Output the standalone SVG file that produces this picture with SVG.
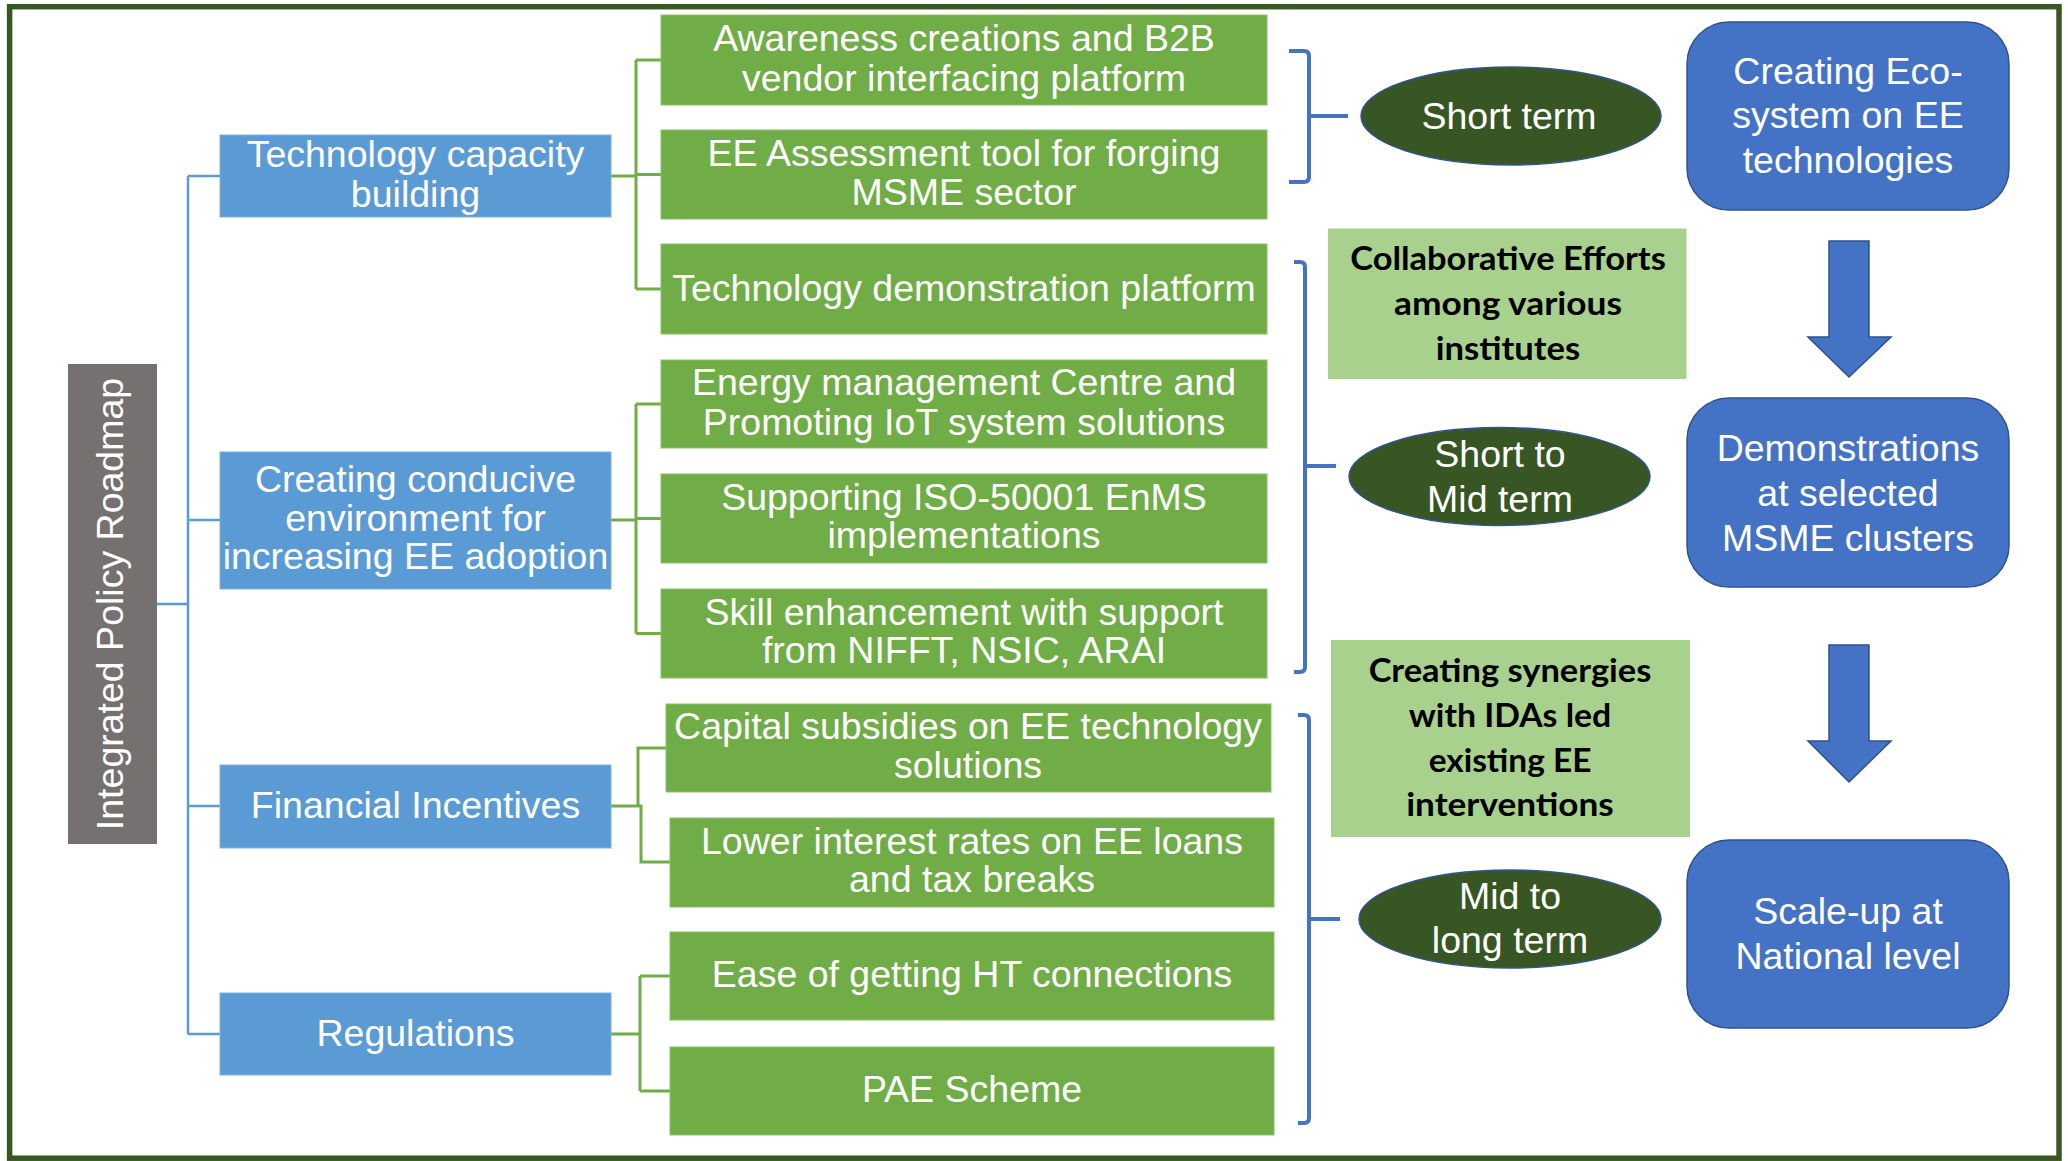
<svg xmlns="http://www.w3.org/2000/svg" width="2068" height="1161" viewBox="0 0 2068 1161">
<style>
.t{font-family:"Liberation Sans",Arial,sans-serif;font-size:37.5px;fill:#fff;text-anchor:middle}
.b{font-family:Lato,"Liberation Sans",sans-serif;font-weight:bold;font-size:33px;fill:#000;text-anchor:middle}
.blue{fill:#5b9bd5;stroke:#7fb2e0;stroke-width:1}
.green{fill:#70ad47;stroke:#8cc168;stroke-width:1}
.lg{fill:#a9d18e}
.ell{fill:#375623;stroke:#2f5597;stroke-width:1.5}
.rr{fill:#4472c4;stroke:#2f528f;stroke-width:1.5}
.arr{fill:#4472c4;stroke:#2f528f;stroke-width:1.5}
.bl{fill:none;stroke:#5b9bd5;stroke-width:2.5}
.gl{fill:none;stroke:#70ad47;stroke-width:3}
.br{fill:none;stroke:#4472c4;stroke-width:4;stroke-linejoin:round}
</style>
<rect x="0" y="0" width="2068" height="1161" fill="#fff"/>
<rect x="9.6" y="6.7" width="2049.4" height="1151.5" fill="none" stroke="#385723" stroke-width="5.5"/>

<g id="connectors">
  <path class="bl" d="M157,604 H188 M188,176 V1034 M188,176 H220 M188,520 H220 M188,806 H220 M188,1034 H220"/>
  <path class="gl" d="M611,176 H636 M636,60 V289 M636,60 H661 M636,174.5 H661 M636,289 H661"/>
  <path class="gl" d="M611,520 H636 M636,404 V633.5 M636,404 H661 M636,518.5 H661 M636,633.5 H661"/>
  <path class="gl" d="M611,806 H638 V748 H666 M638,806 H641 V862 H670"/>
  <path class="gl" d="M611,1034 H640 M640,976 V1091 M640,976 H670 M640,1091 H670"/>
  <path class="br" d="M1289,51 H1304 Q1309,51 1309,56 V177 Q1309,182 1304,182 H1289 M1309,116 H1348"/>
  <path class="br" d="M1294,262 H1300 Q1305,262 1305,267 V667 Q1305,672 1300,672 H1294 M1305,466 H1336"/>
  <path class="br" d="M1298,715 H1304 Q1309,715 1309,720 V1118 Q1309,1123 1304,1123 H1298 M1309,919 H1340"/>
  <polygon class="arr" points="1829,241 1869,241 1869,337 1891,337 1849,377 1808,337 1829,337"/>
  <polygon class="arr" points="1829,645 1869,645 1869,741 1891,741 1849,782 1808,741 1829,741"/>
</g>

<g id="root">
  <rect x="68" y="364" width="89" height="480" fill="#767171"/>
  <text class="t" transform="translate(123,604) rotate(-90)" x="0" y="0">Integrated Policy Roadmap</text>
</g>

<g id="tech-capacity">
  <rect class="blue" x="220" y="135" width="391" height="82"/>
  <text class="t" x="415.5" y="167">Technology capacity</text>
  <text class="t" x="415.5" y="207">building</text>
</g>
<g id="conducive">
  <rect class="blue" x="220" y="452" width="391" height="137"/>
  <text class="t" x="415.5" y="492">Creating conducive</text>
  <text class="t" x="415.5" y="531">environment for</text>
  <text class="t" x="415.5" y="569">increasing EE adoption</text>
</g>
<g id="financial">
  <rect class="blue" x="220" y="765" width="391" height="83"/>
  <text class="t" x="415.5" y="818">Financial Incentives</text>
</g>
<g id="regulations">
  <rect class="blue" x="220" y="993" width="391" height="82"/>
  <text class="t" x="415.5" y="1046">Regulations</text>
</g>

<g id="g1">
  <rect class="green" x="661" y="15" width="606" height="90"/>
  <text class="t" x="964" y="51">Awareness creations and B2B</text>
  <text class="t" x="964" y="91">vendor interfacing platform</text>
</g>
<g id="g2">
  <rect class="green" x="661" y="130" width="606" height="89"/>
  <text class="t" x="964" y="166">EE Assessment tool for forging</text>
  <text class="t" x="964" y="205">MSME sector</text>
</g>
<g id="g3">
  <rect class="green" x="661" y="244" width="606" height="90"/>
  <text class="t" x="964" y="300.5">Technology demonstration platform</text>
</g>
<g id="g4">
  <rect class="green" x="661" y="360" width="606" height="88"/>
  <text class="t" x="964" y="395">Energy management Centre and</text>
  <text class="t" x="964" y="435">Promoting IoT system solutions</text>
</g>
<g id="g5">
  <rect class="green" x="661" y="474" width="606" height="89"/>
  <text class="t" x="964" y="510">Supporting ISO-50001 EnMS</text>
  <text class="t" x="964" y="548">implementations</text>
</g>
<g id="g6">
  <rect class="green" x="661" y="589" width="606" height="89"/>
  <text class="t" x="964" y="625">Skill enhancement with support</text>
  <text class="t" x="964" y="663">from NIFFT, NSIC, ARAI</text>
</g>
<g id="g7">
  <rect class="green" x="666" y="704" width="605" height="88"/>
  <text class="t" x="968" y="739">Capital subsidies on EE technology</text>
  <text class="t" x="968" y="778">solutions</text>
</g>
<g id="g8">
  <rect class="green" x="670" y="818" width="604" height="89"/>
  <text class="t" x="972" y="854">Lower interest rates on EE loans</text>
  <text class="t" x="972" y="892">and tax breaks</text>
</g>
<g id="g9">
  <rect class="green" x="670" y="932" width="604" height="88"/>
  <text class="t" x="972" y="987">Ease of getting HT connections</text>
</g>
<g id="g10">
  <rect class="green" x="670" y="1047" width="604" height="88"/>
  <text class="t" x="972" y="1101.5">PAE Scheme</text>
</g>

<g id="short-term">
  <ellipse class="ell" cx="1511" cy="116" rx="150" ry="49"/>
  <text class="t" x="1509" y="129">Short term</text>
</g>
<g id="short-mid">
  <ellipse class="ell" cx="1499.5" cy="476.5" rx="150.5" ry="49"/>
  <text class="t" x="1500" y="467">Short to</text>
  <text class="t" x="1500" y="512">Mid term</text>
</g>
<g id="mid-long">
  <ellipse class="ell" cx="1510" cy="919" rx="151" ry="49"/>
  <text class="t" x="1510" y="909">Mid to</text>
  <text class="t" x="1510" y="953">long term</text>
</g>

<g id="collab">
  <rect class="lg" x="1328" y="228.5" width="358.5" height="150.5"/>
  <text class="b" x="1508" y="270" textLength="315.6" lengthAdjust="spacingAndGlyphs">Collaborative Efforts</text>
  <text class="b" x="1508" y="314.5" textLength="228" lengthAdjust="spacingAndGlyphs">among various</text>
  <text class="b" x="1508" y="359.5" textLength="144.5" lengthAdjust="spacingAndGlyphs">institutes</text>
</g>
<g id="synergies">
  <rect class="lg" x="1331" y="640" width="359" height="197"/>
  <text class="b" x="1510" y="682" textLength="282.7" lengthAdjust="spacingAndGlyphs">Creating synergies</text>
  <text class="b" x="1510" y="727" textLength="202.5" lengthAdjust="spacingAndGlyphs">with IDAs led</text>
  <text class="b" x="1510" y="772" textLength="162.7" lengthAdjust="spacingAndGlyphs">existing EE</text>
  <text class="b" x="1510" y="816" textLength="207.6" lengthAdjust="spacingAndGlyphs">interventions</text>
</g>

<g id="ecosystem">
  <rect class="rr" x="1687" y="22" width="322" height="188" rx="42" ry="42"/>
  <text class="t" x="1848" y="83.5">Creating Eco-</text>
  <text class="t" x="1848" y="128">system on EE</text>
  <text class="t" x="1848" y="173">technologies</text>
</g>
<g id="demonstrations">
  <rect class="rr" x="1687" y="398" width="322" height="189" rx="42" ry="42"/>
  <text class="t" x="1848" y="461">Demonstrations</text>
  <text class="t" x="1848" y="506">at selected</text>
  <text class="t" x="1848" y="551">MSME clusters</text>
</g>
<g id="scaleup">
  <rect class="rr" x="1687" y="840" width="322" height="188" rx="42" ry="42"/>
  <text class="t" x="1848" y="924">Scale-up at</text>
  <text class="t" x="1848" y="969">National level</text>
</g>
</svg>
